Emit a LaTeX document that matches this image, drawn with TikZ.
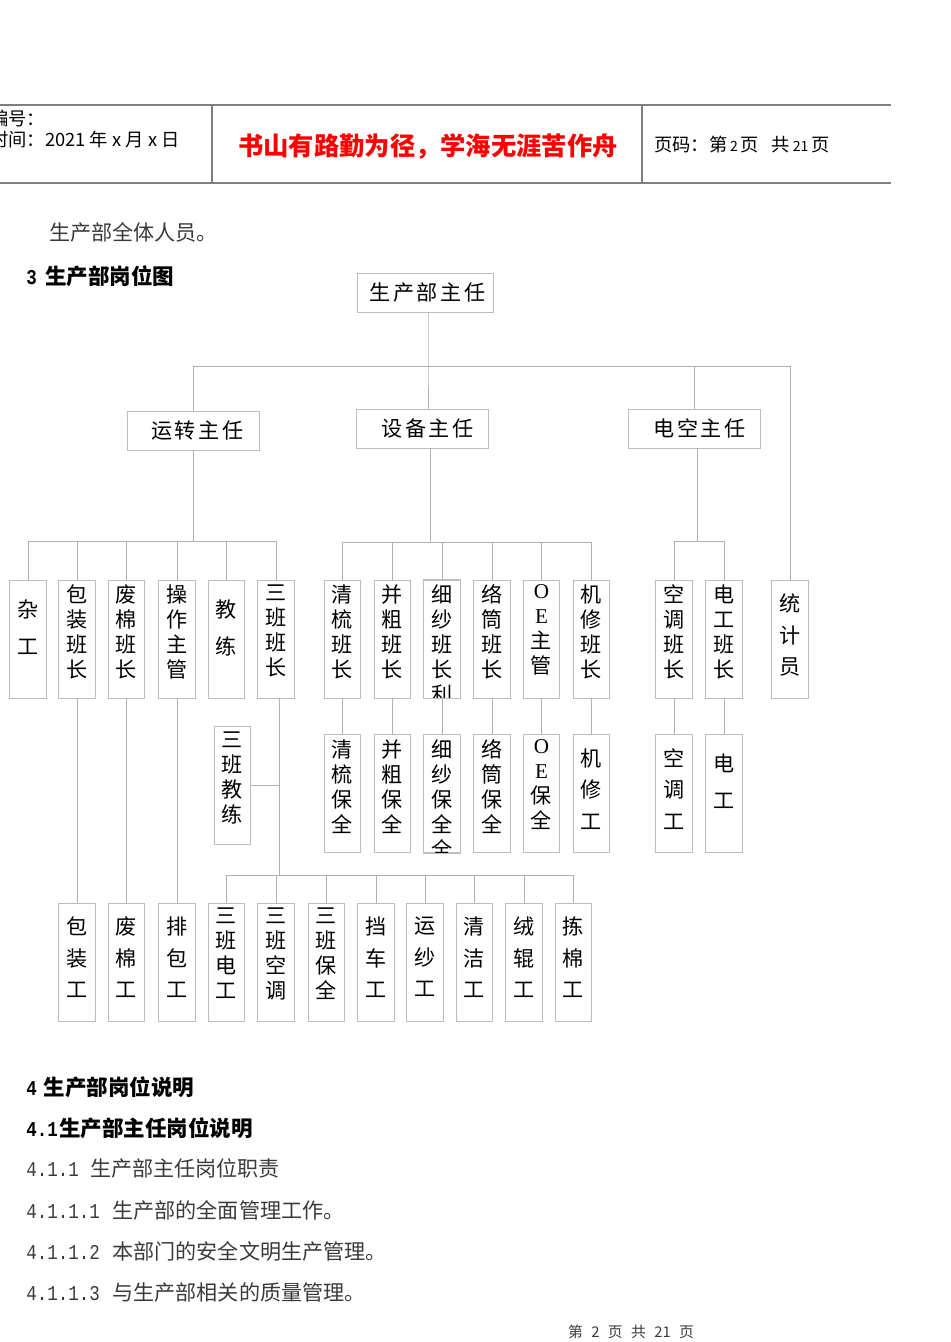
\documentclass[tikz,border=0pt]{standalone}
\usepackage{fontspec}
\setmainfont{Noto Sans CJK SC}
\newfontfamily\widecjk[LetterSpace=12]{Noto Sans CJK SC}
\newfontfamily\serifoe{Liberation Serif}
\newfontfamily\numfont[FakeStretch=0.83]{Liberation Mono}
\usetikzlibrary{calc}

\definecolor{boxgray}{HTML}{BDBDBD}
\definecolor{linegray}{HTML}{B0B0B0}
\definecolor{rulegray}{HTML}{808080}
\definecolor{mottored}{HTML}{FF0000}
\definecolor{bodygray}{HTML}{3A3A3A}

% vertical text in a post box: top gap, line pitch, lines
\newcommand\vtxt[3]{\parbox[c][84pt][t]{26pt}{\centering\vspace*{#1}\baselineskip=#2\relax #3\par}}
\newcommand\fourch[1]{\vtxt{3.5pt}{17.8pt}{#1}}
\newcommand\threech[1]{\vtxt{10pt}{22.4pt}{#1}}
\newcommand\twoch[1]{\vtxt{14pt}{26.3pt}{#1}}
% section numbers
\newcommand\secno[1]{{\numfont\fontsize{15pt}{18pt}\selectfont #1}}
\newcommand\hnum[1]{{\fontsize{10pt}{12pt}\selectfont #1}}

\tikzset{
  post/.style={draw=boxgray, line width=0.6pt, inner sep=0pt, font=\fontsize{15pt}{18pt}\selectfont},
  headpost/.style={draw=boxgray, line width=0.6pt, inner sep=0pt, minimum width=93.9pt, minimum height=27.7pt, font=\widecjk\fontsize{15pt}{18pt}\selectfont},
  link/.style={draw=linegray, line width=0.6pt},
  bodytext/.style={anchor=west, inner sep=0pt, text=bodygray, font=\fontsize{15pt}{18pt}\selectfont},
  headtext/.style={anchor=west, inner sep=0pt, font=\bfseries\fontsize{15.3pt}{18pt}\selectfont},
  pagetext/.style={anchor=west, inner sep=0pt, font=\fontsize{13pt}{15pt}\selectfont},
}

\begin{document}
\begin{tikzpicture}[x=0.025cm, y=-0.025cm]
    \clip (0,0) rectangle (950,1342);

    % page header
    \draw[rulegray, line width=1pt] (0,105) -- (891,105) (0,183) -- (891,183);
    \draw[rulegray, line width=1pt] (212,105) -- (212,183) (642,105) -- (642,183);
    \node[pagetext] (docno) at (-10,118) {编号：};
    \node[pagetext] (docdate) at (-10,140) {时间：2021\hspace{3pt}年\hspace{3pt}x\hspace{3pt}月\hspace{3pt}x\hspace{3pt}日};
    \node[inner sep=0pt, text=mottored, font=\bfseries\fontsize{18pt}{20pt}\selectfont] (motto) at (428,147) {书山有路勤为径，学海无涯苦作舟};
    \node[pagetext] (pageno) at (654,145) {页码：第\hspace{2pt}\hnum{2}\hspace{2pt}页\hspace{9pt}共\hspace{2pt}\hnum{21}\hspace{2pt}页};

    % text above the chart
    \node[bodytext] (scopeline) at (49,232) {生产部全体人员。};
    \node[headtext] (sec3) at (26,276) {\secno{\bfseries 3}\hspace{6pt}生产部岗位图};

    % heads
    \node[headpost, minimum width=96.7pt] (zr) at (425,292.5) {\hspace*{3.5pt}生产部主任};
    \node[headpost] (yz) at (193,430.5) {\hspace*{6pt}运转主任};
    \node[headpost] (sb) at (422.5,428.5) {\hspace*{7pt}设备主任};
    \node[headpost] (dk) at (694.5,428.5) {\hspace*{7pt}电空主任};

    % first row of posts
    \node[post] (za)   at (28,639)    {\twoch{杂\\工}};
    \node[post] (bzbz) at (77,639)    {\fourch{包\\装\\班\\长}};
    \node[post] (fmbz) at (126.5,639) {\fourch{废\\棉\\班\\长}};
    \node[post] (czzg) at (177,639)   {\fourch{操\\作\\主\\管}};
    \node[post] (jl)   at (226.5,639) {\twoch{教\\练}};
    \node[post] (sbbz) at (276,639)   {\fourch{三\\班\\班\\长}};
    \node[post] (qsbz) at (342.5,639) {\fourch{清\\梳\\班\\长}};
    \node[post] (bcbz) at (392.5,639) {\fourch{并\\粗\\班\\长}};
    \begin{scope}
        \clip (423,579) rectangle (461,698.4);
        \node[post] (xsbz) at (442,639) {\fourch{细\\纱\\班\\长\\利}};
    \end{scope}
    \draw[boxgray, line width=0.6pt] (xsbz.south west) rectangle (xsbz.north east);
    \node[post] (ltbz) at (492,639)   {\fourch{络\\筒\\班\\长}};
    \node[post] (oezg) at (541.5,639) {\fourch{{\serifoe O}\\{\serifoe E}\\主\\管}};
    \node[post] (jxbz) at (591.5,639) {\fourch{机\\修\\班\\长}};
    \node[post] (ktbz) at (674,639)   {\fourch{空\\调\\班\\长}};
    \node[post] (dgbz) at (724,639)   {\fourch{电\\工\\班\\长}};
    \node[post] (tjy)  at (790,639)   {\threech{统\\计\\员}};

    % second row of posts
    \node[post] (sbjl) at (232.5,785.5) {\fourch{三\\班\\教\\练}};
    \node[post] (qsbq) at (342.5,793.5) {\fourch{清\\梳\\保\\全}};
    \node[post] (bcbq) at (392.5,793.5) {\fourch{并\\粗\\保\\全}};
    \begin{scope}
        \clip (423,734) rectangle (461,852.4);
        \node[post] (xsbq) at (442,793.5) {\fourch{细\\纱\\保\\全\\全}};
    \end{scope}
    \draw[boxgray, line width=0.6pt] (xsbq.south west) rectangle (xsbq.north east);
    \node[post] (ltbq) at (492,793.5)   {\fourch{络\\筒\\保\\全}};
    \node[post] (oebq) at (541.5,793.5) {\fourch{{\serifoe O}\\{\serifoe E}\\保\\全}};
    \node[post] (jxg)  at (591.5,793.5) {\threech{机\\修\\工}};
    \node[post] (ktg)  at (674,793.5)   {\threech{空\\调\\工}};
    \node[post] (dg)   at (724,793.5)   {\twoch{电\\工}};

    % third row of posts
    \node[post] (bzg)  at (77,962)    {\threech{包\\装\\工}};
    \node[post] (fmg)  at (126.5,962) {\threech{废\\棉\\工}};
    \node[post] (pbg)  at (177,962)   {\threech{排\\包\\工}};
    \node[post] (sbdg) at (226.5,962) {\fourch{三\\班\\电\\工}};
    \node[post] (sbkt) at (276,962)   {\fourch{三\\班\\空\\调}};
    \node[post] (sbbq) at (326.5,962) {\fourch{三\\班\\保\\全}};
    \node[post] (dcg)  at (376,962)   {\threech{挡\\车\\工}};
    \node[post] (ysg)  at (425,962)   {\threech{运\\纱\\工}};
    \node[post] (qjg)  at (474.5,962) {\threech{清\\洁\\工}};
    \node[post] (rgg)  at (524,962)   {\threech{绒\\辊\\工}};
    \node[post] (jmg)  at (573.5,962) {\threech{拣\\棉\\工}};

    % bus lines
    \coordinate (topbus) at (428,366);
    \coordinate (yzbus) at (194,541);
    \coordinate (sbbus) at (430,542);
    \coordinate (dkbus) at (697,541);
    \coordinate (sbtrunk) at (279,875);

    \draw[link] (topbus |- zr.south) -- (topbus) -- (topbus |- sb.north);
    \draw[link] (yz.north) |- (topbus);
    \draw[link] (dk.north) |- (topbus);
    \draw[link] (tjy.north) |- (topbus);

    \draw[link] (yz.south) -- (yz.south |- yzbus);
    \foreach \c in {za,bzbz,fmbz,czzg,jl,sbbz}
        \draw[link] (\c.north) |- (yz.south |- yzbus);

    \draw[link] (sbbus |- sb.south) -- (sbbus);
    \foreach \c in {qsbz,bcbz,xsbz,ltbz,oezg,jxbz}
        \draw[link] (\c.north) |- (sbbus);

    \draw[link] (dkbus |- dk.south) -- (dkbus);
    \foreach \c in {ktbz,dgbz}
        \draw[link] (\c.north) |- (dkbus);

    % down to the second and third rows
    \foreach \a/\b in {qsbz/qsbq,bcbz/bcbq,xsbz/xsbq,ltbz/ltbq,oezg/oebq,jxbz/jxg,ktbz/ktg,dgbz/dg,bzbz/bzg,fmbz/fmg,czzg/pbg}
        \draw[link] (\a.south) -- (\b.north);

    \draw[link] (sbtrunk |- sbbz.south) -- (sbtrunk);
    \draw[link] (sbjl.east) -- (sbjl.east -| sbtrunk);
    \foreach \c in {sbdg,sbkt,sbbq,dcg,ysg,qjg,rgg,jmg}
        \draw[link] (\c.north) |- (sbtrunk);

    % text below the chart
    \node[headtext] (sec4) at (26,1087) {\secno{\bfseries 4}\hspace{5pt}生产部岗位说明};
    \node[headtext] (sec41) at (26,1128) {\secno{\bfseries 4.1}\hspace{1pt}生产部主任岗位说明};
    \node[bodytext] (sec411) at (26,1168) {\secno{4.1.1}\hspace{8pt}生产部主任岗位职责};
    \node[bodytext] (item1) at (26,1210) {\secno{4.1.1.1}\hspace{9pt}生产部的全面管理工作。};
    \node[bodytext] (item2) at (26,1251) {\secno{4.1.1.2}\hspace{9pt}本部门的安全文明生产管理。};
    \node[bodytext] (item3) at (26,1292) {\secno{4.1.1.3}\hspace{9pt}与生产部相关的质量管理。};

    % page footer
    \node[inner sep=0pt, text=bodygray, font=\fontsize{10.5pt}{12pt}\selectfont] (footer) at (631,1332) {第\hspace{6pt}2\hspace{6pt}页\hspace{6pt}共\hspace{6pt}21\hspace{6pt}页};
\end{tikzpicture}
\end{document}
